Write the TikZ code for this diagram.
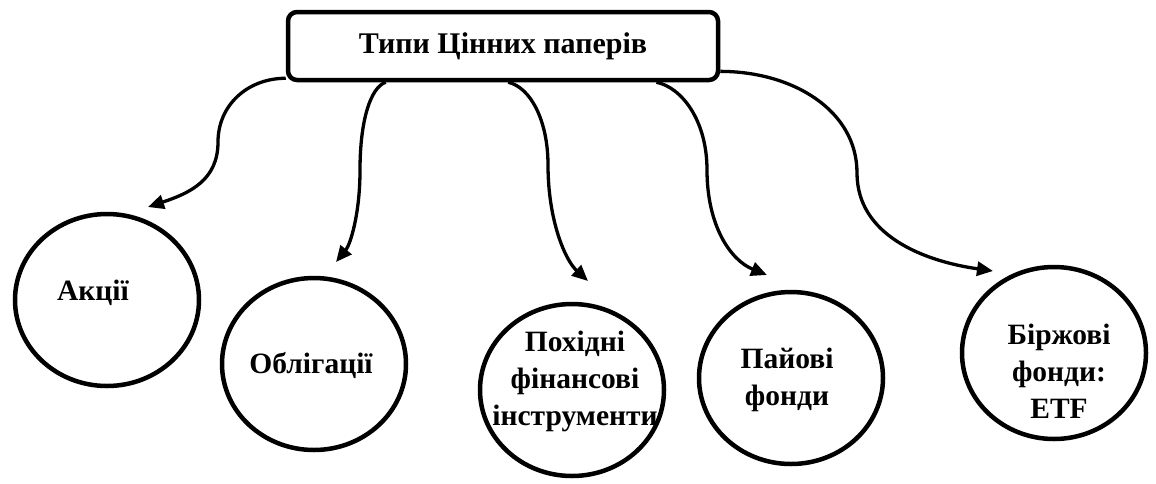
\documentclass[tikz,border=0pt]{standalone}
\usepackage{fontspec}
\setmainfont{Liberation Serif}
\usetikzlibrary{arrows.meta,shapes.geometric,calc}
\begin{document}
\begin{tikzpicture}[x=1pt,y=-1pt,
  box/.style={draw, line width=4.5pt, rounded corners=9pt, minimum width=430pt, minimum height=68pt, inner sep=0pt, font=\bfseries\fontsize{30}{37}\selectfont},
  oval/.style={draw, ellipse, line width=4.5pt, minimum width=184pt, minimum height=172pt, inner sep=0pt},
  lbl/.style={font=\bfseries\fontsize{29.5}{37}\selectfont, align=center, inner sep=0pt},
  link/.style={line width=3.3pt, -{Triangle[length=16pt,width=14pt]}},
]
\path[use as bounding box] (0,0) rectangle (1156,483);

\node[box] (top) at (503,46) {Типи Цінних паперів};

\node[oval] (o1) at (107,300) {};
\node[oval] (o2) at (314,364) {};
\node[oval] (o3) at (572,390) {};
\node[oval] (o4) at (791,378) {};
\node[oval] (o5) at (1054,353) {};

\node[lbl] (t1) at (93,293) {Акції};
\node[lbl] (t2) at (311,365) {Облігації};
\node[lbl] (t3) at (575,381) {Похідні\\фінансові\\інструменти};
\node[lbl] (t4) at (787,380) {Пайові\\фонди};
\node[lbl] (t5) at (1059,371) {Біржові\\фонди:\\ETF};

\coordinate (s1) at ($(top.south west)+(0,-4)$);
\coordinate (s2) at ($(top.south west)!0.23!(top.south east)$);
\coordinate (s3) at ($(top.south west)!0.512!(top.south east)$);
\coordinate (s4) at ($(top.south west)!0.853!(top.south east)$);
\coordinate (s5) at ($(top.north east)!0.85!(top.south east)$);

\coordinate (m1) at (218,142);
\coordinate (m2) at (360,170);
\coordinate (m3) at (548,165);
\coordinate (m4) at (707,170);
\coordinate (m5) at (857,173);

\coordinate (e1) at (148,207);
\coordinate (e2) at (336,262);
\coordinate (e3) at (588,281);
\coordinate (e4) at (767,275);
\coordinate (e5) at (993,271);

\draw[link] (s1) .. controls +(-38,0) and +(0,-37) .. (m1) .. controls +(0,38) and +(42,-14) .. (e1);
\draw[link] (s2) .. controls +(-15,5) and +(0,-50) .. (m2) .. controls +(0,45) and +(14,-17) .. (e2);
\draw[link] (s3) .. controls +(22,5) and +(0,-45) .. (m3) .. controls +(0,55) and +(-23,-21) .. (e3);
\draw[link] (s4) .. controls +(25,5) and +(0,-50) .. (m4) .. controls +(0,55) and +(-37,-15) .. (e4);
\draw[link] (s5) .. controls +(72,0) and +(0,-63) .. (m5) .. controls +(0,62) and +(-70,-10) .. (e5);
\end{tikzpicture}
\end{document}
